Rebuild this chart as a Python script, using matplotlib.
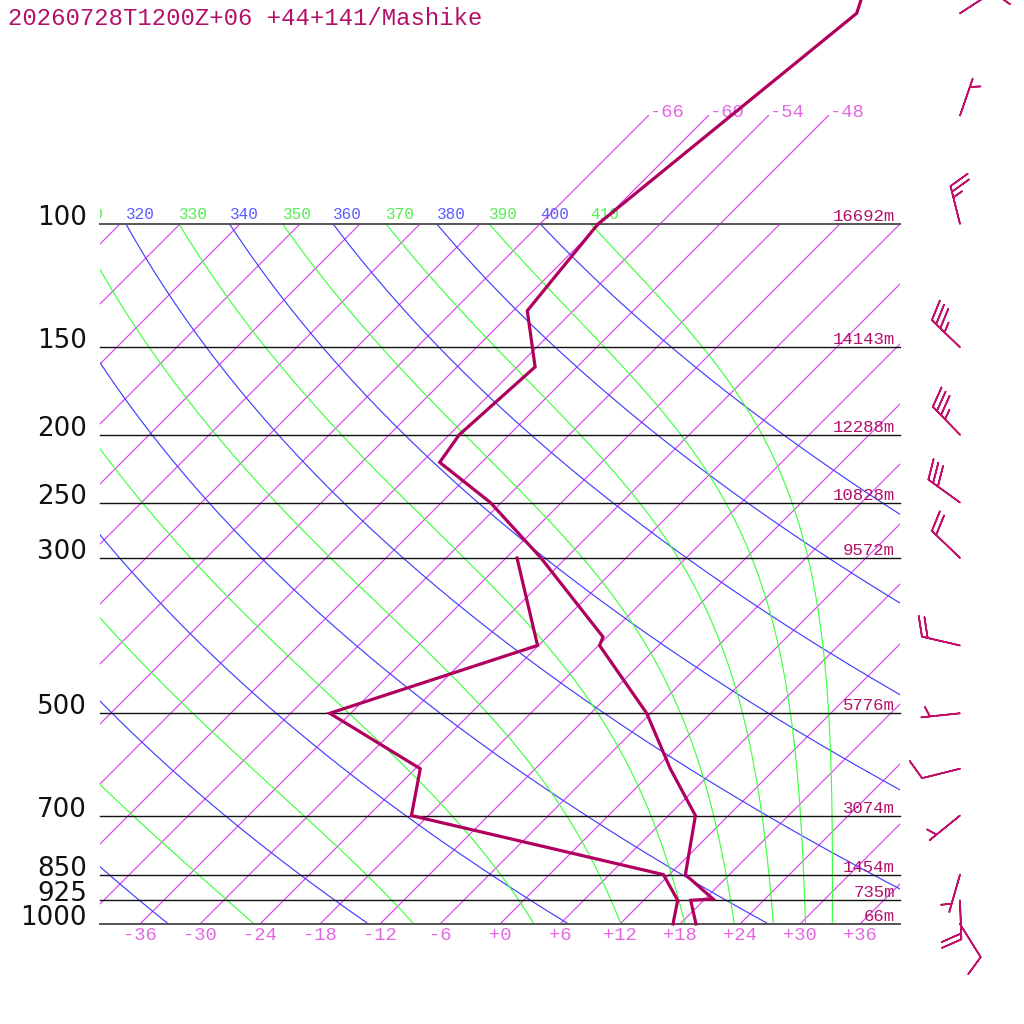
import numpy as np
import matplotlib
matplotlib.use('Agg')
import matplotlib.pyplot as plt
from matplotlib.transforms import Affine2D, offset_copy, Bbox, TransformedBbox
from matplotlib.patches import Rectangle

# ---------------- data ----------------
title = "20260728T1200Z+06 +44+141/Mashike"

levels = [1000, 925, 850, 700, 500, 300, 250, 200, 150, 100]
level_labels = ["1000", "925", "850", "700", "500", "300", "250", "200", "150", "100"]
heights = ["66m", "735m", "1454m", "3074m", "5776m", "9572m", "10828m", "12288m", "14143m", "16692m"]

temp_p = [1000, 925, 921, 850, 700, 600, 500, 400, 389, 300, 250, 219, 200, 160, 133, 100, 50, 40]
temp_t = [19.6, 16.7, 18.8, 13.6, 8.7, 1.5, -6.4, -17.9, -18.4, -32.5, -43.1, -52.2, -53.0, -52.2, -58.6, -60.2, -55.4, -60.0]

dew_p = [1000, 925, 850, 700, 600, 500, 400, 300]
dew_t = [17.3, 15.4, 11.4, -19.7, -23.5, -38.1, -24.1, -34.9]

wind_p = [1000, 925, 850, 700, 600, 500, 400, 300, 250, 200, 150, 100, 70, 50]
wind_dir = [148, 178, 196, 231, 256, 264, 283, 314, 306, 316, 314, 346, 19, 57]
wind_spd = [10, 20, 5, 5, 10, 5, 20, 20, 30, 35, 35, 25, 5, 10]

isotherms = np.arange(-108, 37, 6)
bottom_iso_labels = np.arange(-36, 37, 6)
top_iso_labels = [-66, -60, -54, -48]
dry_thetas = np.arange(220, 401, 20)
moist_thetaes = np.arange(230, 411, 20)

# ---------------- styles ----------------
C_ISO = '#dd44ee'
C_ISO_LAB = '#e466e4'
C_DRY = '#4040ff'
C_DRY_LAB = '#5a5aff'
C_MOIST = '#40ff40'
C_MOIST_LAB = '#55ee55'
C_PROF = '#b0005f'
C_TXT = '#b3106a'
C_BARB = '#c0106a'
MONO = 'Liberation Mono'
THIN = 0.85

DPI = 100
P0 = 1000.0
SCALE = 304.0          # pixels per ln(p) unit
fig = plt.figure(figsize=(10.24, 10.24), dpi=DPI)
ax = fig.add_axes([0, 0, 1, 1])
ax.set_yscale('log')
p_bot = P0 * np.exp(100 / SCALE)
p_top = P0 * np.exp(-924 / SCALE)
ax.set_xlim(-50, 52.4)
ax.set_ylim(p_bot, p_top)
ax.autoscale(False)
ax.axis('off')

# skew (45 deg) relative to 1000 hPa baseline (display y = 100 px)
skew = ax.transData + Affine2D().translate(0, -100).skew_deg(45, 0).translate(0, 100)
clip = Rectangle((-40, 100), 80, 900, transform=ax.transData)

# ---------------- isotherms ----------------
for T in isotherms:
    ln, = ax.plot([T, T], [1000, 100], color=C_ISO, lw=THIN, transform=skew)
    ln.set_clip_path(clip)
for T in top_iso_labels:
    ax.plot([T, T], [100, 70], color=C_ISO, lw=THIN, transform=skew)
    ax.text(T, 70, '%+d' % T, color=C_ISO_LAB, fontsize=13.5, family=MONO,
            ha='left', va='baseline',
            transform=offset_copy(skew, fig, x=2, y=-1, units='dots'))
for T in bottom_iso_labels:
    ax.text(T, 1040, '%+d' % T, color=C_ISO_LAB, fontsize=13.5, family=MONO,
            ha='center', va='center', transform=ax.transData)

# ---------------- dry adiabats ----------------
pp = np.geomspace(1000, 100, 300)
lab_clip = TransformedBbox(Bbox([[100 / 1024, 0], [900 / 1024, 1]]), ax.transAxes)
top_label_pos = {}
for th in dry_thetas:
    T = th * (pp / 1000.0) ** 0.2857 - 273.15
    ln, = ax.plot(T, pp, color=C_DRY, lw=THIN, transform=skew)
    ln.set_clip_path(clip)
    top_label_pos[th] = (T[-1], C_DRY_LAB)

# ---------------- pseudo-adiabats ----------------
def theta_e(Tk, p):
    Tc = Tk - 273.15
    es = 6.112 * np.exp(17.67 * Tc / (Tc + 243.5))
    den = np.maximum(p - es, 1e-3)
    r = 622.0 * es / den
    r = np.where(p - es > 1, r, 1e4)
    return Tk * (1000.0 / p) ** (0.2854 * (1 - 0.28e-3 * r)) * \
        np.exp(np.minimum((3.376 / Tk - 0.00254) * r * (1 + 0.81e-3 * r), 50))

for the in moist_thetaes:
    lo = np.full_like(pp, 150.0)
    hi = np.full_like(pp, 330.0)
    for _ in range(60):
        mid = 0.5 * (lo + hi)
        f = theta_e(mid, pp) > the
        hi = np.where(f, mid, hi)
        lo = np.where(f, lo, mid)
    T = 0.5 * (lo + hi) - 273.15
    ln, = ax.plot(T, pp, color=C_MOIST, lw=THIN, transform=skew)
    ln.set_clip_path(clip)
    top_label_pos[the] = (T[-1], C_MOIST_LAB)

for th in sorted(top_label_pos):
    if th < 310:
        continue
    T, col = top_label_pos[th]
    t = ax.text(T, 100, str(th), color=col, fontsize=11.5, family=MONO,
                ha='left', va='baseline',
                transform=offset_copy(skew, fig, x=0, y=5, units='dots'))
    t.set_clip_box(lab_clip)
    t.set_clip_on(True)

# ---------------- isobars ----------------
for p, lab, h in zip(levels, level_labels, heights):
    edge = p in (1000, 100)
    ax.plot([-40, 40], [p, p], color='#555555' if edge else '#111111',
            lw=1.4 if edge else 1.0, transform=ax.transData)
    ax.text(-41.3, p, lab, color='#111111', fontsize=18.8, family='DejaVu Sans',
            ha='right', va='baseline',
            transform=offset_copy(ax.transData, fig, x=0, y=-1, units='dots'))
    ax.text(39.5, p, h, color=C_TXT, fontsize=12.5, family=MONO,
            ha='right', va='baseline',
            transform=offset_copy(ax.transData, fig, x=0, y=3, units='dots'))

# ---------------- profiles ----------------
ax.plot(temp_t, temp_p, color=C_PROF, lw=2.3, transform=skew, solid_joinstyle='miter', zorder=5)
ax.plot(dew_t, dew_p, color=C_PROF, lw=2.3, transform=skew, solid_joinstyle='miter', zorder=5)

# ---------------- wind barbs ----------------
wd = np.deg2rad(np.array(wind_dir, dtype=float))
ws = np.array(wind_spd, dtype=float)
u = -ws * np.sin(wd)
v = -ws * np.cos(wd)
bx = np.full(len(wind_p), 46.0)
ax.barbs(bx, wind_p, u, v, length=7.5, color=C_BARB, linewidth=1.2,
         sizes=dict(height=0.5, spacing=0.15, width=0.4, emptybarb=0.0),
         transform=ax.transData, zorder=6, clip_on=False)

# ---------------- title ----------------
fig.text(8 / 1024, 1 - 25 / 1024, title, color=C_TXT, fontsize=17.2, family=MONO,
         ha='left', va='baseline')

fig.savefig('out.png', dpi=DPI)
